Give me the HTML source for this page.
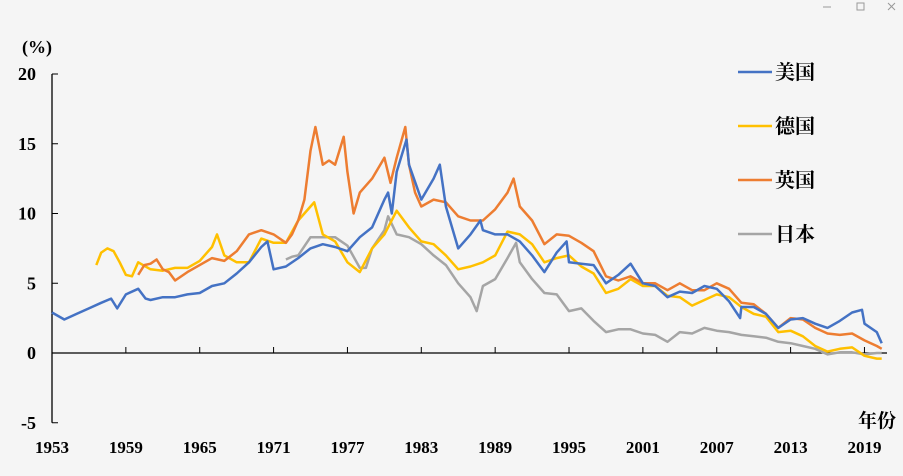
<!DOCTYPE html>
<html><head><meta charset="utf-8">
<style>
html,body{margin:0;padding:0;background:#f5f5f5;}
svg{display:block;font-family:"Liberation Serif","Noto Serif CJK SC",serif;}
</style></head>
<body>
<svg id="chart" width="903" height="476">
<g fill="none" stroke="#999" stroke-width="1">
<line x1="823" y1="7" x2="831" y2="7"/>
<rect x="857" y="3" width="7" height="7"/>
<path d="M888 3 L895 10 M895 3 L888 10"/>
</g>
<g id="axes"></g>
<g id="series"></g>
<g id="legend"></g>
</svg>
<script>
const yTicks=[20,15,10,5,0,-5];
const xTicks=[1953,1959,1965,1971,1977,1983,1989,1995,2001,2007,2013,2019];
const usYears=[1953,1954,1955,1956,1957,1957.8,1958.3,1959,1960,1960.6,1961,1962,1963,1964,1965,1966,1967,1968,1969,1970,1970.5,1971,1972,1973,1974,1975,1976,1977,1978,1979,1980,1980.3,1980.6,1981,1981.8,1982,1983,1984,1984.5,1985,1986,1987,1987.8,1988,1989,1990,1991,1992,1993,1994,1994.8,1995,1996,1997,1998,1999,2000,2001,2002,2003,2004,2005,2006,2007,2008,2008.9,2009,2010,2011,2012,2013,2014,2015,2016,2017,2018,2018.8,2019,2020,2020.4];
const usVals=[2.9,2.4,2.8,3.2,3.6,3.9,3.2,4.2,4.6,3.9,3.8,4.0,4.0,4.2,4.3,4.8,5.0,5.7,6.5,7.6,8.0,6.0,6.2,6.8,7.5,7.8,7.6,7.3,8.3,9.0,11.0,11.5,10.0,13.0,15.3,13.5,11.0,12.5,13.5,10.5,7.5,8.5,9.5,8.8,8.5,8.5,8.0,7.0,5.8,7.2,8.0,6.5,6.4,6.3,5.0,5.6,6.4,5.0,4.8,4.0,4.4,4.3,4.8,4.6,3.7,2.5,3.3,3.3,2.8,1.8,2.4,2.5,2.1,1.8,2.3,2.9,3.1,2.1,1.5,0.7];
const deYears=[1956.6,1957,1957.5,1958,1958.5,1959,1959.5,1960,1961,1962,1963,1964,1965,1966,1966.4,1967,1968,1969,1970,1971,1972,1973,1974,1974.3,1975,1976,1977,1978,1979,1980,1981,1982,1983,1984,1985,1986,1987,1988,1989,1990,1991,1992,1993,1994,1995,1996,1997,1998,1999,2000,2001,2002,2003,2004,2005,2006,2007,2008,2009,2010,2011,2012,2013,2014,2015,2016,2017,2018,2019,2020,2020.4];
const deVals=[6.3,7.2,7.5,7.3,6.5,5.6,5.5,6.5,6.0,5.9,6.1,6.1,6.6,7.6,8.5,7.0,6.5,6.5,8.2,7.9,7.9,9.5,10.5,10.8,8.5,8.0,6.5,5.8,7.5,8.5,10.2,9.0,8.0,7.8,7.0,6.0,6.2,6.5,7.0,8.7,8.5,7.8,6.5,6.8,7.0,6.2,5.7,4.3,4.6,5.3,4.8,4.8,4.1,4.0,3.4,3.8,4.2,4.0,3.3,2.8,2.6,1.5,1.6,1.2,0.5,0.1,0.3,0.4,-0.2,-0.4,-0.4];
const ukYears=[1960,1960.5,1961,1961.5,1962,1962.5,1963,1964,1965,1966,1967,1968,1969,1970,1971,1972,1972.5,1973,1973.5,1974,1974.4,1975,1975.5,1976,1976.7,1977,1977.5,1978,1979,1980,1980.5,1981,1981.7,1982,1982.5,1983,1984,1985,1986,1987,1988,1989,1990,1990.5,1991,1992,1993,1994,1995,1996,1997,1998,1999,2000,2001,2002,2003,2004,2005,2006,2007,2008,2009,2010,2011,2012,2013,2014,2015,2016,2017,2018,2019,2020,2020.4];
const ukVals=[5.6,6.3,6.4,6.7,6.0,5.8,5.2,5.8,6.3,6.8,6.6,7.3,8.5,8.8,8.5,7.9,8.5,9.5,11.0,14.5,16.2,13.5,13.8,13.5,15.5,13.0,10.0,11.5,12.5,14.0,12.2,14.0,16.2,13.5,11.5,10.5,11.0,10.8,9.8,9.5,9.5,10.3,11.5,12.5,10.5,9.5,7.8,8.5,8.4,7.9,7.3,5.5,5.2,5.5,5.0,5.0,4.5,5.0,4.5,4.5,5.0,4.6,3.6,3.5,2.8,1.8,2.5,2.4,1.8,1.4,1.3,1.4,0.9,0.5,0.3];
const jpYears=[1972,1972.5,1973,1974,1975,1976,1977,1978,1978.5,1979,1980,1980.3,1981,1982,1983,1984,1985,1986,1987,1987.5,1988,1989,1990,1990.7,1991,1992,1993,1994,1995,1996,1997,1998,1999,2000,2001,2002,2003,2004,2005,2006,2007,2008,2009,2010,2011,2012,2013,2014,2015,2016,2017,2018,2019,2020,2020.4];
const jpVals=[6.7,6.9,7.0,8.3,8.3,8.3,7.7,6.1,6.1,7.5,8.8,9.8,8.5,8.3,7.8,7.0,6.3,5.0,4.0,3.0,4.8,5.3,6.8,7.9,6.5,5.3,4.3,4.2,3.0,3.2,2.3,1.5,1.7,1.7,1.4,1.3,0.8,1.5,1.4,1.8,1.6,1.5,1.3,1.2,1.1,0.8,0.7,0.5,0.3,-0.1,0.05,0.05,-0.1,0.0,0.0];
const legendNames=["美国","德国","英国","日本"];
const colors=["#4472c4","#ffc000","#ed7d31","#a5a5a5"];

const NS="http://www.w3.org/2000/svg";
const x0=52,pxYear=12.31,y0=353,pxUnit=13.95;
const X=y=>x0+(y-1953)*pxYear;
const Y=v=>y0-v*pxUnit;
function mk(tag,attrs,parent){const e=document.createElementNS(NS,tag);for(const k in attrs)e.setAttribute(k,attrs[k]);parent.appendChild(e);return e;}
const axes=document.getElementById('axes');
let yAxis=mk('line',{x1:x0,y1:Y(20),x2:x0,y2:Y(-5),stroke:'#000','stroke-width':1.3},axes);


let xAxis=mk('line',{x1:x0,y1:y0,x2:887,y2:y0,stroke:'#000','stroke-width':1.3},axes);


yTicks.forEach(v=>{
  const t=mk('line',{x1:x0,y1:Y(v),x2:x0+6,y2:Y(v),stroke:'#000'},axes);
  
  
  const l=mk('text',{x:36,y:Y(v)+6,'text-anchor':'end','font-size':18,'font-weight':'bold'},axes);
  l.textContent=v;
  
  
});
xTicks.forEach(v=>{
  const t=mk('line',{x1:X(v),y1:y0,x2:X(v),y2:y0-6,stroke:'#000'},axes);
  
  
  const l=mk('text',{x:X(v),y:453,'text-anchor':'middle','font-size':17,'font-weight':'bold'},axes);
  l.textContent=v;
  
  
});
const yt=mk('text',{x:22,y:53,'font-size':18,'font-weight':'bold'},axes);
yt.textContent='(%)';


const xt=mk('text',{x:858,y:427,'font-size':19,'font-weight':'bold'},axes);
xt.textContent='年份';



const sg=document.getElementById('series');
const data=[[usYears,usVals,'us'],[deYears,deVals,'germany'],[ukYears,ukVals,'uk'],[jpYears,jpVals,'japan']];
const order=[3,1,2,0];
order.forEach(i=>{
  const [ys,vs,n]=data[i];
  const d=ys.map((y,k)=>(k?'L':'M')+X(y).toFixed(1)+' '+Y(vs[k]).toFixed(1)).join(' ');
  const p=mk('path',{d:d,fill:'none',stroke:colors[i],'stroke-width':2.5,'stroke-linejoin':'round'},sg);
  
  
});
const lg=document.getElementById('legend');
const ly=[72,126,180,234];
legendNames.forEach((nm,i)=>{
  const g=mk('g',{},lg);
  
  
  mk('line',{x1:738,y1:ly[i],x2:772,y2:ly[i],stroke:colors[i],'stroke-width':2.5},g);
  const t=mk('text',{x:775,y:ly[i]+7,'font-size':20,'font-weight':'bold'},g);
  t.textContent=nm;
});
</script>
</body></html>
